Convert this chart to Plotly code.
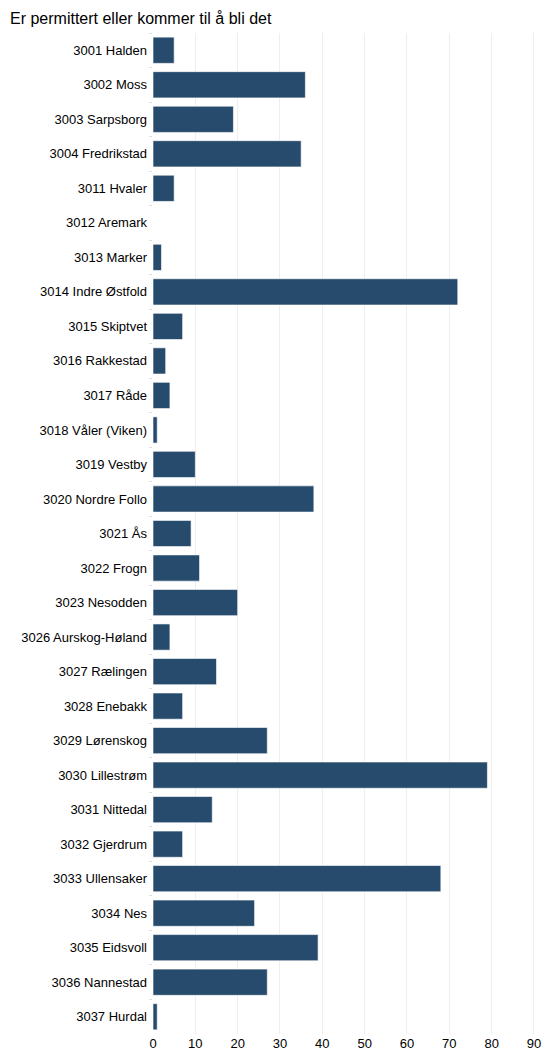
import plotly.graph_objects as go

categories = [
    "3001 Halden", "3002 Moss", "3003 Sarpsborg", "3004 Fredrikstad", "3011 Hvaler",
    "3012 Aremark", "3013 Marker", "3014 Indre Østfold", "3015 Skiptvet", "3016 Rakkestad",
    "3017 Råde", "3018 Våler (Viken)", "3019 Vestby", "3020 Nordre Follo", "3021 Ås",
    "3022 Frogn", "3023 Nesodden", "3026 Aurskog-Høland", "3027 Rælingen", "3028 Enebakk",
    "3029 Lørenskog", "3030 Lillestrøm", "3031 Nittedal", "3032 Gjerdrum", "3033 Ullensaker",
    "3034 Nes", "3035 Eidsvoll", "3036 Nannestad", "3037 Hurdal",
]
values = [5, 36, 19, 35, 5, 0, 2, 72, 7, 3, 4, 1, 10, 38, 9, 11, 20, 4, 15, 7,
          27, 79, 14, 7, 68, 24, 39, 27, 1]
x_ticks = [0, 10, 20, 30, 40, 50, 60, 70, 80, 90]

fig = go.Figure(go.Bar(
    y=categories, x=values, orientation="h",
    marker=dict(color="#274b6d", line=dict(color="rgba(255,255,255,0.6)", width=1)),
    hoverinfo="x+y",
))

fig.update_layout(
    width=546, height=1056,
    paper_bgcolor="white", plot_bgcolor="white",
    margin=dict(l=153, r=5, t=33, b=17),
    font=dict(family="Liberation Sans, Arial, sans-serif", size=13, color="#000000"),
    title=dict(text="Er permittert eller kommer til å bli det", x=0, xref="paper",
               xanchor="left", y=1, yref="container", yanchor="top",
               pad=dict(t=13, l=-143),
               font=dict(size=16, color="#000000")),
    bargap=0.24,
    showlegend=False,
)
fig.update_xaxes(
    range=[0, 90.95], tickvals=x_ticks, showgrid=True, gridcolor="#eeeeee", gridwidth=1,
    zeroline=False, showline=False, ticks="", tickfont=dict(size=13, color="#000000"),
    fixedrange=True,
)
fig.update_yaxes(
    autorange="reversed", type="category", categoryorder="array", categoryarray=categories,
    showgrid=False, zeroline=False, showline=False,
    ticks="outside", tickson="boundaries", ticklen=3, tickcolor="#dddddd",
    ticklabelstandoff=5,
    tickfont=dict(size=13, color="#000000"), fixedrange=True,
)
fig.write_html("out.html", post_script="document.body.style.margin='0';",
               config={"displayModeBar": False})
